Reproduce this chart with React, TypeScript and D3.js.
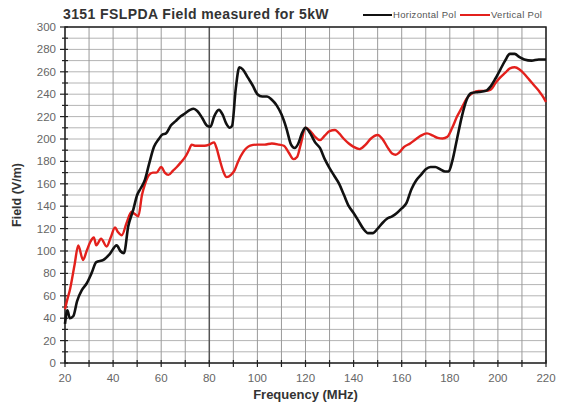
import React from 'react';
import * as d3 from 'd3';

// Horizontal Pol (black)
const freqH = [20, 21, 22, 23.5, 25, 27, 29, 31, 33, 36, 38.5, 41.5, 43, 44.5, 46.3, 48.4, 50, 51.5, 53.3, 55, 57, 59, 60.5, 62, 64, 66, 68, 70, 72, 73.5, 75, 77, 79, 80.5, 82, 84, 85.5, 87, 88.5, 89.5, 91, 92.5, 94, 96, 98, 100, 102, 104, 106, 108, 110, 112, 114, 115.5, 117, 118.5, 120, 122, 124, 126, 128, 130, 132, 134, 136, 138, 140, 142, 144, 146, 148, 150, 152, 154, 156, 158, 160, 162, 164, 166, 168, 170, 172, 174, 176, 178, 179.5, 181, 183, 185, 187, 189, 192, 195, 197, 199, 201, 203, 205, 207, 209, 211, 214, 217, 220];
const fieldH = [35, 47, 40, 42, 55, 65, 71, 80, 90, 92, 97, 105, 100, 98, 122, 137, 150, 156, 164, 178, 193, 200, 204, 205, 212, 216, 220, 223, 226, 227, 225, 219, 212, 211, 220, 226, 222, 214, 210, 212, 245, 264, 262, 255, 248, 240, 238, 238, 235, 230, 222, 210, 195, 192, 196, 205, 210, 205, 197, 192, 182, 174, 167, 160, 150, 140, 134, 127, 120, 116, 116, 120, 125, 129, 131, 134, 138, 143, 155, 163, 168, 173, 175, 175, 173, 171, 171, 180, 200, 220, 235, 241, 242, 243, 247, 254, 262, 270, 276, 276, 273, 271, 270, 271, 271];

// Vertical Pol (red)
const freqV = [20, 21, 22, 24, 25.5, 27.5, 29, 30.5, 32, 33, 35, 37.3, 39, 40.8, 42, 43.6, 45.6, 47.7, 49, 50.5, 52, 53.3, 55, 56.5, 58, 60, 61.5, 63, 65, 66.5, 68.5, 70, 71.5, 72.7, 74, 76, 78, 80, 82, 83, 84.4, 86, 87.2, 89, 90.5, 92, 94, 97, 100, 103, 106, 109, 111, 113, 115, 116.5, 118, 120, 122, 124, 126, 128, 130, 132.3, 134, 136, 138, 140, 142.5, 145, 147, 150, 152, 154, 156, 157.5, 159, 161, 163.5, 166, 168, 170.5, 173, 175, 177, 179, 181, 183, 185, 187, 189.5, 192, 195, 197, 199, 201, 203, 205, 207, 209, 211, 213, 215, 217, 219, 220];
const fieldV = [48, 57, 65, 88, 105, 92, 100, 108, 112, 105, 111, 104, 112, 121, 117, 114, 125, 135, 133, 131, 150, 160, 168, 170, 170, 175, 170, 168, 172, 175, 180, 184, 190, 195, 194, 194, 194, 195, 197, 192, 181, 170, 166, 168, 172, 180, 188, 194, 195, 195, 196, 195, 194, 188, 182, 184, 195, 210, 207, 202, 199, 203, 207, 208, 205, 200, 196, 193, 191, 195, 200, 203.6, 200, 193, 187, 186, 188, 193, 196, 200, 203, 205, 203, 201, 200.5, 202, 210, 220, 228, 236, 241, 243, 243, 244, 250, 255, 259, 263, 264, 262, 258, 253, 248, 243, 237, 233];

const xTicks = [20, 40, 60, 80, 100, 120, 140, 160, 180, 200, 220];
const yTicks = [0, 20, 40, 60, 80, 100, 120, 140, 160, 180, 200, 220, 240, 260, 280, 300];

const W = 566, H = 405;
const left = 65, right = 546, top = 27, bottom = 363;
const font = 'Arial, "Liberation Sans", sans-serif';

export default function App() {
  const x = d3.scaleLinear().domain([20, 220]).range([left, right]);
  const y = d3.scaleLinear().domain([0, 300]).range([bottom, top]);
  const line = d3.line<[number, number]>()
    .x(d => x(d[0]))
    .y(d => y(d[1]))
    .curve(d3.curveMonotoneX);

  const hPts = freqH.map((f, i) => [f, fieldH[i]] as [number, number]);
  const vPts = freqV.map((f, i) => [f, fieldV[i]] as [number, number]);
  const xMinor = d3.range(20, 221, 10);
  const yMinor = d3.range(0, 301, 10);

  return (
    <svg width={W} height={H} style={{position: 'absolute', left: 0, top: 0, background: '#fff'}}>
      {/* grid */}
      {yMinor.map(v => (
        <line key={'gy' + v} x1={left} x2={right} y1={y(v)} y2={y(v)} stroke="#b4b4b4" strokeWidth={1} />
      ))}
      {xMinor.map(f => (
        <line key={'gx' + f} x1={x(f)} x2={x(f)} y1={top} y2={bottom}
          stroke={f === 80 ? '#555' : '#9a9a9a'} strokeWidth={f === 80 ? 1.5 : 1} />
      ))}
      <rect x={left} y={top} width={right - left} height={bottom - top} fill="none" stroke="#222" strokeWidth={1.5} />

      {/* y axis ticks */}
      {yMinor.map(v => (
        <line key={'ty' + v} x1={left - (v % 20 === 0 ? 5 : 3)} x2={left + 3} y1={y(v)} y2={y(v)} stroke="#222" strokeWidth={1.2} />
      ))}
      {yTicks.map(v => (
        <text key={'ly' + v} x={left - 9} y={y(v) + 4} textAnchor="end" fontFamily={font} fontSize={11.5} fill="#666">{v}</text>
      ))}
      {/* x axis ticks */}
      {xMinor.map(f => (
        <line key={'tx' + f} x1={x(f)} x2={x(f)} y1={bottom - 3} y2={bottom + 4} stroke="#222" strokeWidth={1.2} />
      ))}
      {xTicks.map(f => (
        <text key={'lx' + f} x={x(f)} y={bottom + 19} textAnchor="middle" fontFamily={font} fontSize={11.5} fill="#666">{f}</text>
      ))}

      {/* series */}
      <path d={line(vPts) || ''} fill="none" stroke="#e3201c" strokeWidth={2.4} strokeLinejoin="round" />
      <path d={line(hPts) || ''} fill="none" stroke="#111" strokeWidth={2.6} strokeLinejoin="round" />

      {/* titles */}
      <text x={63} y={19} fontFamily={font} fontSize={14} letterSpacing={0.4} fontWeight="bold" fill="#333">3151 FSLPDA Field measured for 5kW</text>
      <text x={(left + right) / 2} y={399} textAnchor="middle" fontFamily={font} fontSize={13} fontWeight="bold" fill="#333">Frequency (MHz)</text>
      <text transform={`translate(21,${(top + bottom) / 2}) rotate(-90)`} textAnchor="middle" fontFamily={font} fontSize={12.5} fontWeight="bold" fill="#333">Field (V/m)</text>

      {/* legend */}
      <line x1={363} x2={392} y1={15} y2={15} stroke="#111" strokeWidth={2} />
      <text x={393} y={18} fontFamily={font} fontSize={9.5} letterSpacing={0.3} fill="#555">Horizontal Pol</text>
      <line x1={460} x2={490} y1={15} y2={15} stroke="#e3201c" strokeWidth={2} />
      <text x={491} y={18} fontFamily={font} fontSize={9.5} letterSpacing={0.3} fill="#555">Vertical Pol</text>
    </svg>
  );
}
